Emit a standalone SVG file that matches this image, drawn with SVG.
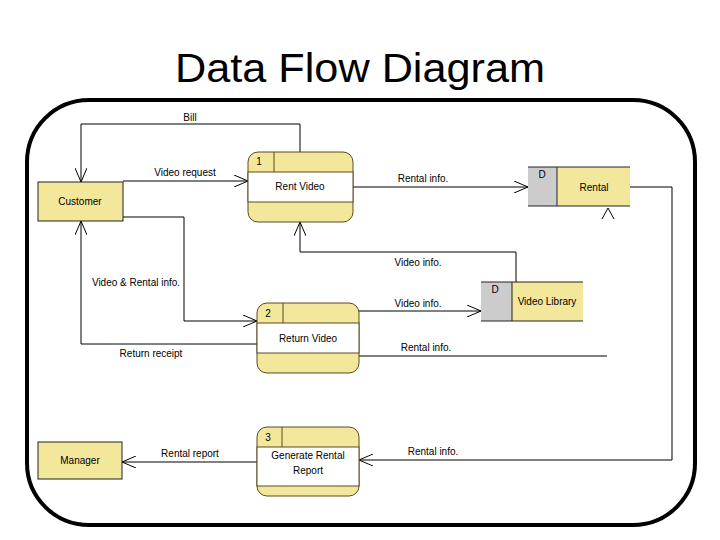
<svg xmlns="http://www.w3.org/2000/svg" width="720" height="540" viewBox="0 0 720 540">
<style>
  text { font-family: "Liberation Sans", Arial, sans-serif; fill: #000; }
  .lbl { font-size: 10px; }
  .ctr { text-anchor: middle; }
  .ent { fill: #F3E79B; stroke: #222; stroke-width: 1; }
  .proc { fill: #F3E79B; stroke: #5A4A1E; stroke-width: 1; }
  .band { fill: #FFFFFF; stroke: #5A4A1E; stroke-width: 1; }
  .div { stroke: #5A4A1E; stroke-width: 1; fill: none; }
  .dsD { fill: #CCCCCC; }
  .dsN { fill: #F3E79B; }
  .dsl { stroke: #222; stroke-width: 1; fill: none; }
  .flow { fill: none; stroke: #000; stroke-width: 1; }
</style>
<defs>
  <marker id="arr" markerUnits="userSpaceOnUse" viewBox="0 0 14 12" refX="14" refY="6" markerWidth="14" markerHeight="12" orient="auto">
    <path d="M0,0 L14,6 L0,12" fill="none" stroke="#000" stroke-width="1"/>
  </marker>
</defs>
<rect width="720" height="540" fill="#FFFFFF"/>
<text x="360" y="82" class="ctr" font-size="40" textLength="370" lengthAdjust="spacingAndGlyphs">Data Flow Diagram</text>
<rect id="frame" x="27" y="100" width="668" height="425" rx="62" ry="62" fill="none" stroke="#000" stroke-width="4"/>

<g id="connectors">
  <path class="flow" d="M300,152 V124 H81 V182" marker-end="url(#arr)"/>
  <text x="190" y="121" class="lbl ctr">Bill</text>
  <path class="flow" d="M123,181 H248" marker-end="url(#arr)"/>
  <text x="185" y="176" class="lbl ctr">Video request</text>
  <path class="flow" d="M123,217 H184 V321 H257" marker-end="url(#arr)"/>
  <text x="136" y="286" class="lbl ctr">Video &amp; Rental info.</text>
  <path class="flow" d="M257,344 H81 V221" marker-end="url(#arr)"/>
  <text x="151" y="357" class="lbl ctr">Return receipt</text>
  <path class="flow" d="M353,187 H528" marker-end="url(#arr)"/>
  <text x="423" y="182" class="lbl ctr">Rental info.</text>
  <path class="flow" d="M516,282 V252 H300 V222" marker-end="url(#arr)"/>
  <text x="418" y="266" class="lbl ctr">Video info.</text>
  <path class="flow" d="M359,311 H481" marker-end="url(#arr)"/>
  <text x="418" y="307" class="lbl ctr">Video info.</text>
  <path class="flow" d="M359,356 H607"/>
  <text x="426" y="351" class="lbl ctr">Rental info.</text>
  <path class="flow" d="M602,219 L608,208 L614,219"/>
  <path class="flow" d="M630,187 H672 V460 H359" marker-end="url(#arr)"/>
  <text x="433" y="455" class="lbl ctr">Rental info.</text>
  <path class="flow" d="M257,462 H122" marker-end="url(#arr)"/>
  <text x="190" y="457" class="lbl ctr">Rental report</text>
</g>

<g id="customer">
  <rect class="ent" x="38" y="182" width="85" height="39"/>
  <text x="80" y="205" class="lbl ctr">Customer</text>
</g>
<g id="manager">
  <rect class="ent" x="38" y="442" width="84" height="37"/>
  <text x="80" y="464" class="lbl ctr">Manager</text>
</g>

<g id="p1">
  <rect class="proc" x="248" y="152" width="105" height="70" rx="10" ry="10"/>
  <rect class="band" x="248" y="172" width="105" height="30"/>
  <line class="div" x1="274" y1="152" x2="274" y2="172"/>
  <text x="259" y="165" class="lbl ctr">1</text>
  <text x="300" y="190" class="lbl ctr">Rent Video</text>
</g>
<g id="p2">
  <rect class="proc" x="257" y="303" width="102" height="70" rx="10" ry="10"/>
  <rect class="band" x="257" y="323" width="102" height="30"/>
  <line class="div" x1="283" y1="303" x2="283" y2="323"/>
  <text x="268" y="317" class="lbl ctr">2</text>
  <text x="308" y="342" class="lbl ctr">Return Video</text>
</g>
<g id="p3">
  <rect class="proc" x="257" y="427" width="102" height="69" rx="10" ry="10"/>
  <rect class="band" x="257" y="447" width="102" height="39"/>
  <line class="div" x1="282" y1="427" x2="282" y2="447"/>
  <text x="268" y="441" class="lbl ctr">3</text>
  <text x="308" y="459" class="lbl ctr">Generate Rental</text>
  <text x="308" y="474" class="lbl ctr">Report</text>
</g>

<g id="ds-rental">
  <rect class="dsD" x="528" y="167" width="29" height="39"/>
  <rect class="dsN" x="557" y="167" width="73" height="39"/>
  <path class="dsl" d="M528,167 H630 M528,206 H630 M557,167 V206"/>
  <text x="542" y="178" class="lbl ctr">D</text>
  <text x="594" y="191" class="lbl ctr">Rental</text>
</g>
<g id="ds-videolib">
  <rect class="dsD" x="481" y="282" width="31" height="39"/>
  <rect class="dsN" x="512" y="282" width="71" height="39"/>
  <path class="dsl" d="M481,282 H583 M481,321 H583 M512,282 V321"/>
  <text x="495" y="293" class="lbl ctr">D</text>
  <text x="547" y="305" class="lbl ctr">Video Library</text>
</g>
</svg>
